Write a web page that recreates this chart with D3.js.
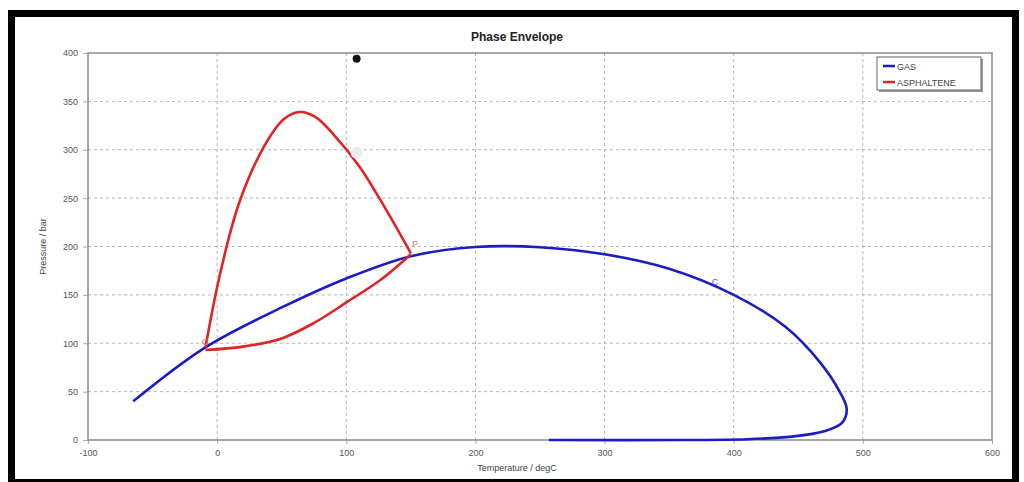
<!DOCTYPE html>
<html>
<head>
<meta charset="utf-8">
<script src="https://cdn.jsdelivr.net/npm/d3@7"></script>
<style>
  html, body { margin: 0; padding: 0; background: #fff; }
  svg { display: block; font-family: "Liberation Sans", Arial, sans-serif; }
</style>
</head>
<body>
<svg id="chart" width="1024" height="482"></svg>
<script>
// Phase envelope: gas saturation curve and asphaltene onset envelope
const gasT = [-65, -10, 50, 100, 150, 200, 250, 300, 350, 400, 440, 467, 482, 487.5, 484, 470, 445, 410, 360, 257];
const gasP = [40, 95, 137, 167, 190, 199.5, 199.3, 192, 177, 150, 117, 80, 50, 32, 18, 9, 3.5, 0.8, 0, 0];

const asphUpperT = [-9, 2, 17, 37, 52, 64, 76, 90, 110, 130, 150];
const asphUpperP = [96, 170, 245, 305, 332, 339, 334, 316, 283, 240, 193];
const asphLowerT = [150, 128, 101, 75, 50, 20, -9];
const asphLowerP = [192, 167, 143, 121, 105, 96.5, 93];

const xTicks = [-100, 0, 100, 200, 300, 400, 500, 600];
const yTicks = [0, 50, 100, 150, 200, 250, 300, 350, 400];

const seriesNames = ["GAS", "ASPHALTENE"];
const seriesColors = ["#1c1cc4", "#e02424"];

// Critical point marker and point labels
const markerPoint = { t: 108, p: 394 };
const faintPoint = { t: 108, p: 297 };
const pointLabels = [
  { text: "C", t: 383, p: 160, color: "#5a5ad8" },
  { text: "P", t: 151, p: 199, color: "#d07080" },
  { text: "C", t: -12, p: 98, color: "#f07070" }
];

const svg = d3.select("#chart");
const margin = { left: 88, right: 992, top: 53, bottom: 440 };

const x = d3.scaleLinear().domain([-100, 600]).range([margin.left, margin.right]);
const y = d3.scaleLinear().domain([0, 400]).range([margin.bottom, margin.top]);

// Outer black frame
svg.append("rect")
  .attr("x", 11.5).attr("y", 13.5)
  .attr("width", 1004).attr("height", 469)
  .attr("fill", "none").attr("stroke", "#000").attr("stroke-width", 7);

// Title
svg.append("text")
  .attr("x", 517).attr("y", 41)
  .attr("text-anchor", "middle")
  .attr("font-size", 12).attr("font-weight", "bold").attr("fill", "#222")
  .text("Phase Envelope");

// Grid lines
const grid = svg.append("g");
grid.selectAll("line.v").data(xTicks.slice(1, -1)).join("line")
  .attr("x1", d => x(d)).attr("x2", d => x(d))
  .attr("y1", margin.top).attr("y2", margin.bottom)
  .attr("stroke", "#b4b4b4").attr("stroke-width", 1).attr("stroke-dasharray", "3,3");
grid.selectAll("line.h").data(yTicks.slice(1, -1)).join("line")
  .attr("x1", margin.left).attr("x2", margin.right)
  .attr("y1", d => y(d)).attr("y2", d => y(d))
  .attr("stroke", "#b4b4b4").attr("stroke-width", 1).attr("stroke-dasharray", "3,3");

// Axes
const xAxis = d3.axisBottom(x).tickValues(xTicks).tickSize(4).tickPadding(6).tickFormat(d => String(d));
const yAxis = d3.axisLeft(y).tickValues(yTicks).tickSize(5).tickPadding(5).tickFormat(d => String(d));

const gx = svg.append("g").attr("transform", `translate(0,${margin.bottom})`).call(xAxis);
const gy = svg.append("g").attr("transform", `translate(${margin.left},0)`).call(yAxis);
[gx, gy].forEach(g => {
  g.select(".domain").remove();
  g.selectAll(".tick line").attr("stroke", "#aaa");
  g.selectAll(".tick text").attr("fill", "#555").attr("font-size", 9)
    .attr("font-family", "Liberation Sans, Arial, sans-serif");
});

// Plot frame
svg.append("rect")
  .attr("x", margin.left).attr("y", margin.top)
  .attr("width", margin.right - margin.left).attr("height", margin.bottom - margin.top)
  .attr("fill", "none").attr("stroke", "#8a8a8a").attr("stroke-width", 1.5);

// Axis titles
svg.append("text")
  .attr("x", 517).attr("y", 471)
  .attr("text-anchor", "middle").attr("font-size", 9).attr("fill", "#444")
  .text("Temperature / degC");
svg.append("text")
  .attr("transform", `translate(46,${(margin.top + margin.bottom) / 2}) rotate(-90)`)
  .attr("text-anchor", "middle").attr("font-size", 9).attr("fill", "#444")
  .text("Pressure / bar");

// Curves
const line = d3.line().x(d => x(d[0])).y(d => y(d[1])).curve(d3.curveCatmullRom.alpha(0.5));
const zip = (a, b) => a.map((v, i) => [v, b[i]]);

svg.append("path")
  .datum(zip(gasT, gasP))
  .attr("d", line)
  .attr("fill", "none").attr("stroke", seriesColors[0]).attr("stroke-width", 2.6)
  .attr("stroke-linejoin", "round");

[zip(asphUpperT, asphUpperP), zip(asphLowerT, asphLowerP)].forEach(pts => {
  svg.append("path")
    .datum(pts)
    .attr("d", line)
    .attr("fill", "none").attr("stroke", seriesColors[1]).attr("stroke-width", 2.6)
    .attr("stroke-linejoin", "round");
});

// Markers
svg.append("circle")
  .attr("cx", x(faintPoint.t)).attr("cy", y(faintPoint.p)).attr("r", 6)
  .attr("fill", "#ececec");
svg.append("circle")
  .attr("cx", x(markerPoint.t)).attr("cy", y(markerPoint.p)).attr("r", 4)
  .attr("fill", "#111");

pointLabels.forEach(l => {
  svg.append("text")
    .attr("x", x(l.t)).attr("y", y(l.p))
    .attr("font-size", 9).attr("fill", l.color)
    .text(l.text);
});

// Legend
const lg = svg.append("g").attr("transform", "translate(877,57)");
lg.append("rect").attr("x", 2).attr("y", 2).attr("width", 104).attr("height", 33)
  .attr("fill", "#9a9a9a");
lg.append("rect").attr("x", 0).attr("y", 0).attr("width", 104).attr("height", 33)
  .attr("fill", "#fff").attr("stroke", "#666").attr("stroke-width", 1);
seriesNames.forEach((name, i) => {
  const cy = 9 + i * 16;
  lg.append("line").attr("x1", 6).attr("x2", 18).attr("y1", cy).attr("y2", cy)
    .attr("stroke", seriesColors[i]).attr("stroke-width", 2.5);
  lg.append("text").attr("x", 20).attr("y", cy + 3.5)
    .attr("font-size", 9).attr("fill", "#444").text(name);
});
</script>
</body>
</html>
